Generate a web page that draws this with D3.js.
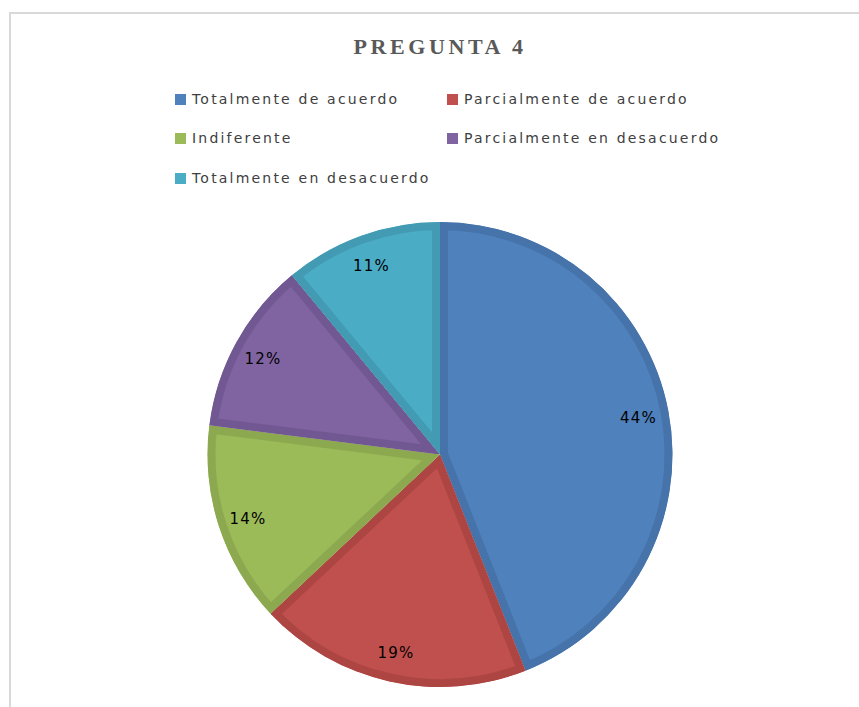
<!DOCTYPE html>
<meta charset="utf-8">
<script src="https://d3js.org/d3.v7.min.js"></script>
<style>
  body { margin: 0; background: #fff; }
</style>
<body>
<div id="canvas"></div>
<script>
  // datos de la pregunta 4
  var categorias = ["Totalmente de acuerdo", "Parcialmente de acuerdo", "Indiferente",
                    "Parcialmente en desacuerdo", "Totalmente en desacuerdo"];
  var valores = [44, 19, 14, 12, 11];
  var colores = ["#4f81bd", "#c0504d", "#9bbb59", "#8064a2", "#4bacc6"];
  var bordes = ["#4573aa", "#ad4643", "#8ca950", "#725893", "#429bb3"];

  var width = 859, height = 707;

  var svg = d3.select("#canvas")
    .append("svg")
    .attr("width", width)
    .attr("height", height);

  // marco del grafico (se corta a la derecha y abajo)
  svg.append("rect")
    .attr("x", 10).attr("y", 13)
    .attr("width", 880).attr("height", 760)
    .attr("fill", "none")
    .attr("stroke", "#d9d9d9")
    .attr("stroke-width", 2);

  // titulo
  svg.append("text")
    .attr("x", 440).attr("y", 54)
    .attr("text-anchor", "middle")
    .attr("font-family", "'Liberation Serif', serif")
    .attr("font-weight", "bold")
    .attr("font-size", "22px")
    .attr("letter-spacing", "3.6px")
    .attr("fill", "#595959")
    .text("PREGUNTA 4");

  // leyenda ------------------------------------------------------
  var colX = [175, 447], filaY = [99, 138, 178];
  var leg = svg.selectAll(".leg")
    .data(categorias)
    .enter()
    .append("g")
    .attr("transform", function(d, i) {
      return "translate(" + colX[i % 2] + "," + filaY[Math.floor(i / 2)] + ")";
    });
  leg.append("rect")
    .attr("x", 0).attr("y", -5)
    .attr("width", 11).attr("height", 11)
    .attr("fill", function(d, i) { return colores[i]; });
  leg.append("text")
    .attr("x", 17).attr("y", 5)
    .attr("font-family", "'DejaVu Sans', sans-serif")
    .attr("font-size", "14px")
    .attr("letter-spacing", "2.2px")
    .attr("fill", "#404040")
    .text(function(d) { return d; });

  // torta --------------------------------------------------------
  var cx = 440, cy = 454.5, radio = 232.5;
  var pie = d3.pie().sort(null).value(function(d) { return d; });
  var arcos = pie(valores);
  var arc = d3.arc().innerRadius(0).outerRadius(radio);
  var arcLabel = d3.arc().innerRadius(202).outerRadius(202);

  var g = svg.append("g").attr("transform", "translate(" + cx + "," + cy + ")");
  var defs = svg.append("defs");

  defs.selectAll("clipPath")
    .data(arcos)
    .enter()
    .append("clipPath")
    .attr("id", function(d, i) { return "clip" + i; })
    .append("path")
    .attr("d", arc);

  g.selectAll(".slice")
    .data(arcos)
    .enter()
    .append("path")
    .attr("d", arc)
    .attr("fill", function(d, i) { return colores[i]; })
    .attr("stroke", function(d, i) { return bordes[i]; })
    .attr("stroke-width", 16)
    .attr("stroke-linejoin", "miter")
    .attr("clip-path", function(d, i) { return "url(#clip" + i + ")"; });

  // etiquetas de porcentaje
  g.selectAll(".lbl")
    .data(arcos)
    .enter()
    .append("text")
    .attr("transform", function(d) { return "translate(" + arcLabel.centroid(d) + ")"; })
    .attr("dy", "0.45em")
    .attr("text-anchor", "middle")
    .attr("font-family", "'DejaVu Sans', sans-serif")
    .attr("font-size", "15px")
    .attr("letter-spacing", "1.2px")
    .attr("fill", "#000")
    .text(function(d) { return d.data + "%"; });
</script>
</body>
